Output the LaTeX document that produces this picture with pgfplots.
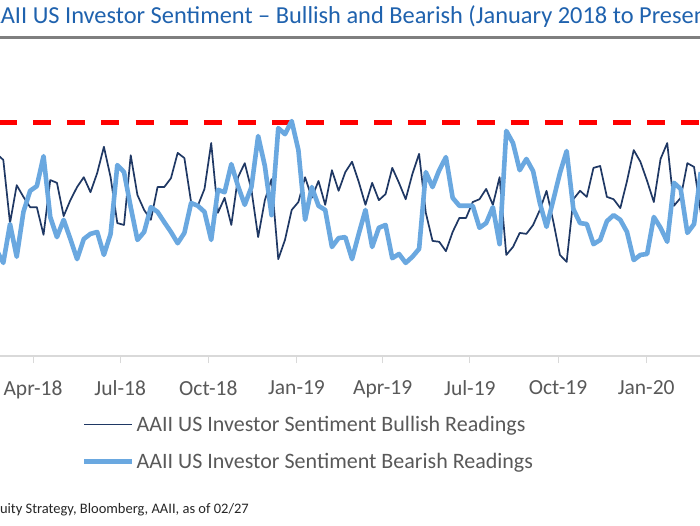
\documentclass[border=0pt]{standalone}
\usepackage{pgfplots}
\usepackage{pgfplotstable}
\pgfplotsset{compat=1.18}
\usepackage{fontspec}
\setmainfont{Carlito}
\definecolor{titleblue}{HTML}{1F62AE}
\definecolor{bull}{HTML}{1F3864}
\definecolor{bear}{HTML}{6AA8E0}
\definecolor{axgrey}{HTML}{D9D9D9}
\definecolor{txtgrey}{HTML}{595959}
\definecolor{bargrey}{HTML}{7F7F7F}
\pgfplotstableread{
day bull bear
52 43.2 22.6
59 41.9 19.9
66 28.4 28.2
73 36.5 21.2
80 34.0 30.8
87 31.8 35.3
94 31.8 36.3
101 25.9 42.7
108 37.6 29.7
115 37.0 25.4
122 29.9 29.1
129 33.3 25.0
136 36.1 20.7
143 38.2 25.0
150 35.0 26.1
157 39.1 26.5
164 44.7 21.6
171 38.2 26.1
178 28.4 40.8
185 28.0 39.3
192 42.9 31.8
199 34.4 24.8
206 31.2 26.5
213 29.1 31.8
220 36.1 30.8
227 36.1 28.6
234 38.0 26.5
241 43.4 24.1
248 42.3 26.3
255 32.9 32.7
262 32.1 32.1
269 35.7 30.8
276 45.5 24.8
283 30.6 35.5
290 33.8 35.0
297 28.0 41.0
304 38.2 36.3
311 41.2 32.3
318 35.5 36.1
325 25.4 47.0
332 33.3 40.6
339 37.8 30.1
346 20.7 48.7
353 24.8 47.4
360 31.2 50.2
367 32.9 44.0
374 38.2 29.1
381 33.8 36.1
388 37.4 32.1
395 32.3 31.2
402 39.7 23.3
409 35.3 25.2
416 39.3 25.4
423 41.5 20.7
430 37.2 26.1
437 32.3 31.2
444 37.0 23.3
451 33.3 27.4
458 34.6 28.0
465 40.2 20.9
472 37.0 21.8
479 33.5 19.9
486 38.9 21.2
493 43.2 22.9
500 30.6 39.3
507 24.6 36.1
514 24.4 39.7
521 22.4 42.5
528 26.5 33.8
535 29.5 32.1
542 29.5 32.1
549 32.9 32.1
556 33.5 27.4
563 35.7 28.4
570 32.3 31.8
577 38.2 23.9
584 21.6 48.1
591 23.3 45.5
598 26.3 39.7
605 26.1 42.1
612 28.0 39.5
619 31.2 32.7
626 35.3 27.6
633 28.8 33.3
640 21.6 39.1
647 20.1 43.8
654 33.5 31.4
661 35.3 28.4
668 34.0 28.2
675 40.2 23.9
682 40.6 24.8
689 34.0 28.8
696 33.5 30.1
703 31.6 29.1
710 37.4 26.5
717 44.0 20.5
724 41.5 21.6
731 37.4 21.8
738 32.9 29.7
745 42.1 27.4
752 45.5 24.4
759 32.1 37.0
766 33.8 35.7
773 41.2 26.3
780 40.4 28.2
787 30.6 39.3
}\sentiment
\begin{document}
\begin{tikzpicture}[x=1pt,y=1pt]
\clip (0,0) rectangle (700,525);
\fill[white] (0,0) rectangle (700,525);
\node[anchor=base west, text=titleblue, inner sep=0pt,
  font=\fontsize{24.4}{29}\selectfont] at (-13.5,501)
  {AAII US Investor Sentiment – Bullish and Bearish (January 2018 to Present)};
\fill[bargrey] (0,486) rectangle (700,489);
\node[anchor=base east, inner sep=0pt, text=black!85,
  font=\fontsize{14.5}{17}\selectfont] at (249,12)
  {Source: Equity Strategy, Bloomberg, AAII, as of 02/27};
\begin{axis}[
  at={(0pt,169pt)}, anchor=south west,
  scale only axis, width=700pt, height=280.8pt,
  xmin=55.55, xmax=786.2, ymin=0, ymax=60,
  axis x line*=bottom, axis y line=none,
  axis line style={axgrey, line width=1.5pt},
  xtick={90,181,273,365,455,546,638,730},
  xticklabels={Apr-18,Jul-18,Oct-18,Jan-19,Apr-19,Jul-19,Oct-19,Jan-20},
  tick align=outside, major tick length=7pt,
  tick style={axgrey, line width=1pt},
  xticklabel style={text=txtgrey, font=\fontsize{21.5}{25}\selectfont, yshift=-14pt},
  ytick=\empty,
  legend cell align=left,
  legend style={draw=none, fill=none, at={(0.117,-0.206)}, anchor=north west,
    font=\fontsize{22}{26}\selectfont, text=txtgrey, row sep=16pt,
    inner sep=0pt},
  legend image code/.code={\draw[#1] (0pt,0pt) -- (48pt,0pt);},
]
\addplot[color=red, line width=5pt, dash pattern=on 18pt off 16.1pt, forget plot]
  coordinates {(54.7,50) (900,50)};
\addplot[color=bull, line width=1.7pt, line join=round] table[x=day, y=bull] {\sentiment};
\addlegendentry{AAII US Investor Sentiment Bullish Readings}
\addplot[color=bear, line width=4.6pt, line join=round] table[x=day, y=bear] {\sentiment};
\addlegendentry{AAII US Investor Sentiment Bearish Readings}
\end{axis}
\end{tikzpicture}
\end{document}
